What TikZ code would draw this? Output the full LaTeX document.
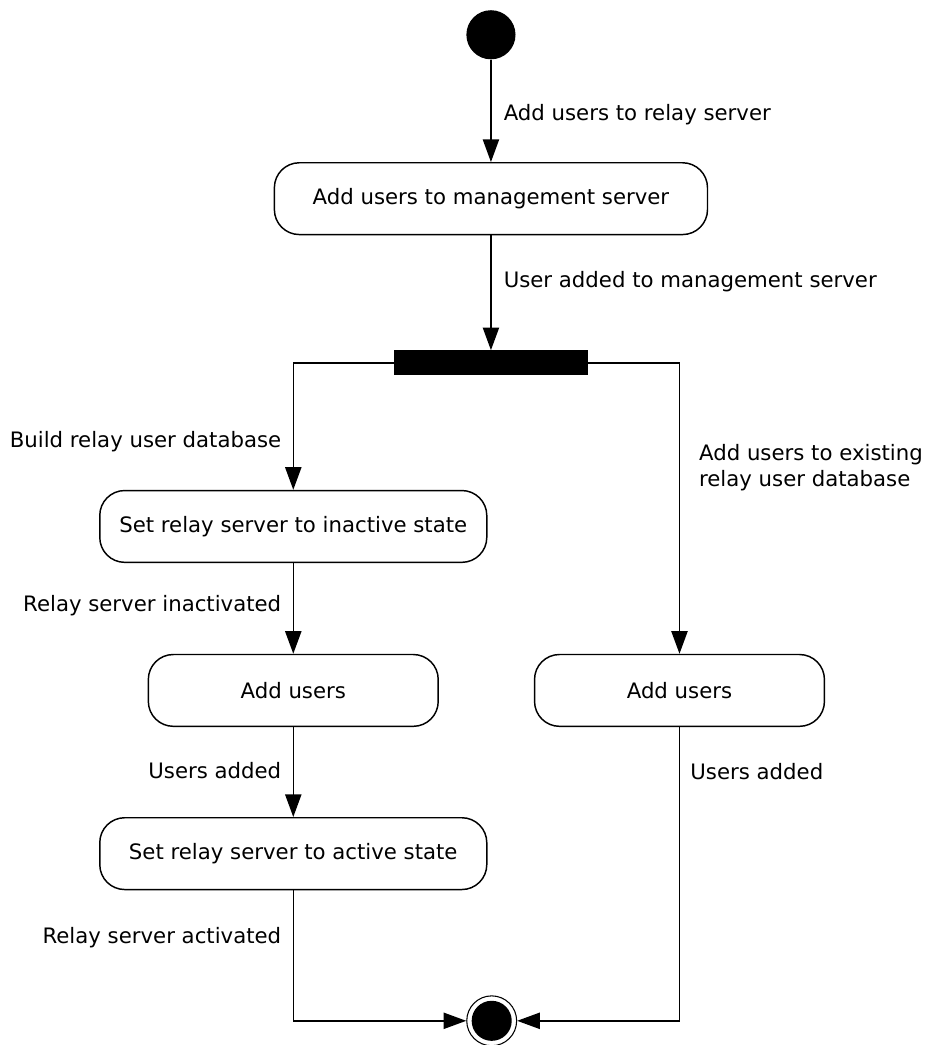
\documentclass[tikz,border=0pt]{standalone}
\usepackage{fontspec}
\setmainfont{DejaVu Sans}
\usepackage{tikz}
\usetikzlibrary{
	arrows.meta,
	positioning,
	calc
}

\begin{document}
\begin{tikzpicture}[
				activity/.style={
					rectangle, draw, rounded corners=0.66cm, line width=1.1pt,
					minimum height=1.9cm, inner sep=0pt,
					align=center, font=\fontsize{16}{20}\selectfont
				},
				startnode/.style={
					circle, fill=black, minimum size=1.3cm, inner sep=0pt
				},
				endnode/.style={
					circle, draw, line width=0.8pt, minimum size=1.32cm, inner sep=0pt,
					path picture={\fill (path picture bounding box.center) circle (0.53cm);}
				},
				forkbar/.style={
					rectangle, fill=black, minimum width=5.13cm, minimum height=0.66cm, inner sep=0pt
				},
				flow/.style={-{Triangle[length=0.6cm, width=0.43cm]}, line width=1.1pt, black},
				lbl/.style={font=\fontsize{16}{20}\selectfont, inner sep=0pt, align=left}
				]
				\useasboundingbox (0,0) rectangle (24.55,-27.65);
				
				% Start
				\node[startnode] (start) at (12.99,-0.92) {};
				
				% management server
				\node[activity, minimum width=11.46cm, below=2.71cm of start] (mgmt) {Add users to management server};
				
				% fork
				\node[forkbar, below=3.04cm of mgmt] (fork) {};
				
				% inactive state
				\node[activity, minimum width=10.24cm, below=3.02cm of fork, xshift=-5.23cm] (inactive) {Set relay server to inactive state};
				
				% add users (left and right)
				\node[activity, minimum width=7.67cm, below=2.40cm of inactive] (addLeft) {Add users};
				\node[activity, minimum width=7.67cm, right=2.51cm of addLeft] (addRight) {Add users};
				
				% active state
				\node[activity, minimum width=10.24cm, below=2.38cm of addLeft] (active) {Set relay server to active state};
				
				% final node
				\node[endnode, below=2.78cm of active, xshift=5.25cm] (end) {};
				
				% arrows between nodes
				\draw[flow] (start) -- node[lbl, right=0.32cm, pos=0.54] {Add users to relay server} (mgmt);
				\draw[flow] (mgmt) -- node[lbl, right=0.32cm, pos=0.40] {User added to management server} (fork);
				\draw[flow] (fork.west) -| node[lbl, left=0.3cm, pos=0.81] {Build relay user database} (inactive.north);
				\draw[flow] (fork.east) -| node[lbl, right=0.5cm, pos=0.68] {Add users to existing\\relay user database} (addRight.north);
				\draw[flow] (inactive) -- node[lbl, left=0.3cm, pos=0.47] {Relay server inactivated} (addLeft);
				\draw[flow] (addLeft) -- node[lbl, left=0.3cm, pos=0.48] {Users added} (active);
				\draw[flow] (active.south) |- node[lbl, left=0.3cm, pos=0.18] {Relay server activated} (end.west);
				\draw[flow] (addRight.south) |- node[lbl, right=0.27cm, pos=0.076] {Users added} (end.east);
			\end{tikzpicture}
\end{document}
